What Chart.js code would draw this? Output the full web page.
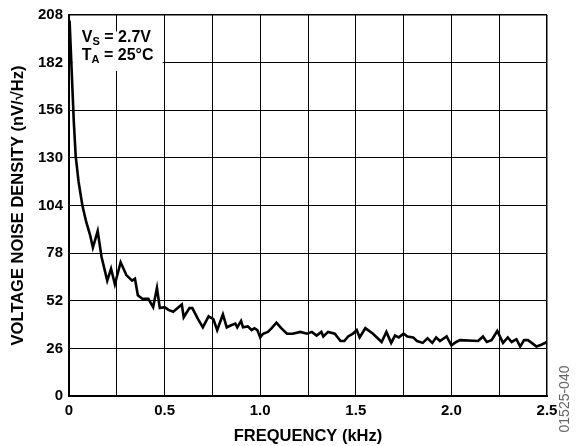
<!DOCTYPE html>
<html>
<head>
<meta charset="utf-8">
<script src="https://cdn.jsdelivr.net/npm/chart.js@4.4.1/dist/chart.umd.min.js"></script>
<style>
  html, body { margin: 0; padding: 0; background: #fff; }
  #wrap { width: 577px; height: 446px; position: relative; }
</style>
</head>
<body>
<div id="wrap"><canvas id="c" width="577" height="446"></canvas></div>
<script>
// Frequency (kHz)
const freq = [0.003,0.015,0.025,0.035,0.05,0.07,0.09,0.11,0.125,0.15,0.17,0.2,0.22,0.24,0.27,0.3,0.33,0.345,0.36,0.385,0.415,0.44,0.46,0.475,0.5,0.52,0.545,0.59,0.6,0.63,0.645,0.675,0.7,0.73,0.755,0.775,0.805,0.825,0.845,0.87,0.88,0.9,0.91,0.935,0.955,0.97,0.985,1.0,1.015,1.04,1.06,1.085,1.11,1.14,1.17,1.21,1.245,1.27,1.295,1.32,1.33,1.355,1.39,1.42,1.44,1.46,1.485,1.505,1.52,1.55,1.59,1.635,1.66,1.685,1.705,1.725,1.75,1.77,1.8,1.82,1.85,1.875,1.9,1.92,1.94,1.975,2.0,2.025,2.045,2.14,2.165,2.185,2.21,2.24,2.27,2.295,2.315,2.34,2.36,2.38,2.4,2.42,2.445,2.47,2.5];
// Voltage noise density (nV/√Hz)
const noise = [205,175,150,131,117,104,95,88,81,90,76,63,69.5,61,73,66,63,64,55,53,53,48.5,59,48,48.5,47,46,50,43,48,48,42,37.5,43.5,42,36,44.5,37.5,38.5,39.5,37.5,41,37.5,38,36,37,36,32,34,35,37,40,37,34,34,35,34,35,33,35,32.5,35,34,30,30,32.5,34,36,32,37,34,29.5,35,29,33,32,34,32.5,32,30,29,31.5,29,32,30,32.5,27.7,29.5,30.5,30,32.5,29.5,30.5,35.5,29,32,29.5,31,27,30.5,30.5,29,27,28,29.5];
const xTickValues = [0, 0.5, 1.0, 1.5, 2.0, 2.5];
const xTickLabels = ['0', '0.5', '1.0', '1.5', '2.0', '2.5'];
const yTickValues = [0, 26, 52, 78, 104, 130, 156, 182, 208];
const xTitle = 'FREQUENCY (kHz)';
const yTitle = 'VOLTAGE NOISE DENSITY (nV/\u221AHz)';
const noteLines = [['V', 'S', ' = 2.7V'], ['T', 'A', ' = 25\u00B0C']];
const figId = '01525-040';

const FONT = "'Liberation Sans', Arial, Helvetica, sans-serif";

const annot = {
  id: 'annot',
  beforeDatasetsDraw(chart) {
    const ctx = chart.ctx;
    const xs = chart.scales.x, ys = chart.scales.y;
    // white box behind conditions text (covers grid)
    const l = xs.getPixelForValue(0.018), r = xs.getPixelForValue(0.49);
    const t = ys.getPixelForValue(199), b = ys.getPixelForValue(177.5);
    ctx.save();
    ctx.fillStyle = '#fff';
    ctx.fillRect(l, t, r - l, b - t);
    ctx.restore();
  },
  afterDraw(chart) {
    const ctx = chart.ctx;
    const xs = chart.scales.x, ys = chart.scales.y;
    ctx.save();
    ctx.fillStyle = '#000';
    ctx.textBaseline = 'alphabetic';
    let x0 = xs.getPixelForValue(0.067);
    const bases = [ys.getPixelForValue(193.5), ys.getPixelForValue(183.5)];
    noteLines.forEach((ln, i) => {
      let x = x0;
      ctx.font = "bold 16px " + FONT;
      ctx.fillText(ln[0], x, bases[i]);
      x += ctx.measureText(ln[0]).width;
      ctx.font = "bold 11px " + FONT;
      ctx.fillText(ln[1], x, bases[i] + 3);
      x += ctx.measureText(ln[1]).width;
      ctx.font = "bold 16px " + FONT;
      ctx.fillText(ln[2], x, bases[i]);
    });
    // figure id, rotated
    ctx.font = "14px " + FONT;
    ctx.fillStyle = '#666';
    ctx.translate(565, 399);
    ctx.rotate(-Math.PI / 2);
    ctx.textAlign = 'center';
    ctx.textBaseline = 'middle';
    ctx.fillText(figId, 0, 0);
    ctx.restore();
  }
};

new Chart(document.getElementById('c'), {
  type: 'line',
  data: {
    datasets: [{
      data: freq.map((f, i) => ({ x: f, y: noise[i] })),
      borderColor: '#000',
      borderWidth: 2.6,
      pointRadius: 0,
      tension: 0,
      fill: false
    }]
  },
  options: {
    responsive: false,
    animation: false,
    devicePixelRatio: 1,
    layout: { padding: { left: 0, right: 30, top: 13, bottom: 0 } },
    plugins: { legend: { display: false }, tooltip: { enabled: false } },
    scales: {
      x: {
        type: 'linear',
        min: 0, max: 2.5,
        afterFit(s) { s.height = 50; },
        afterBuildTicks(s) {
          const t = [];
          for (let i = 0; i <= 10; i++) t.push({ value: i * 0.25 });
          s.ticks = t;
        },
        ticks: {
          autoSkip: false,
          maxRotation: 0,
          padding: 6,
          color: '#000',
          font: { family: FONT, size: 15, weight: 'bold' },
          callback(v) {
            const k = xTickValues.findIndex(a => Math.abs(a - v) < 1e-6);
            return k >= 0 ? xTickLabels[k] : '';
          }
        },
        grid: {
          drawTicks: false,
          color: '#000',
          lineWidth(c) { return c.index === 10 ? 1.5 : 1; }
        },
        border: { display: true, color: '#000', width: 2 },
        title: {
          display: true, text: xTitle, color: '#000',
          font: { family: FONT, size: 16.5, weight: 'bold' },
          padding: { top: 0, bottom: 0 }
        }
      },
      y: {
        type: 'linear',
        min: 0, max: 208,
        afterFit(s) { s.width = 69; },
        afterBuildTicks(s) { s.ticks = yTickValues.map(v => ({ value: v })); },
        ticks: {
          autoSkip: false,
          padding: 6,
          color: '#000',
          font: { family: FONT, size: 15, weight: 'bold' }
        },
        grid: {
          drawTicks: false,
          color: '#000',
          lineWidth(c) { return c.index === yTickValues.length - 1 ? 1.5 : 1; }
        },
        border: { display: true, color: '#000', width: 2 },
        title: {
          display: true, text: yTitle, color: '#000',
          font: { family: FONT, size: 16.5, weight: 'bold' },
          padding: { top: 9, bottom: 0 }
        }
      }
    }
  },
  plugins: [annot]
});
</script>
</body>
</html>
